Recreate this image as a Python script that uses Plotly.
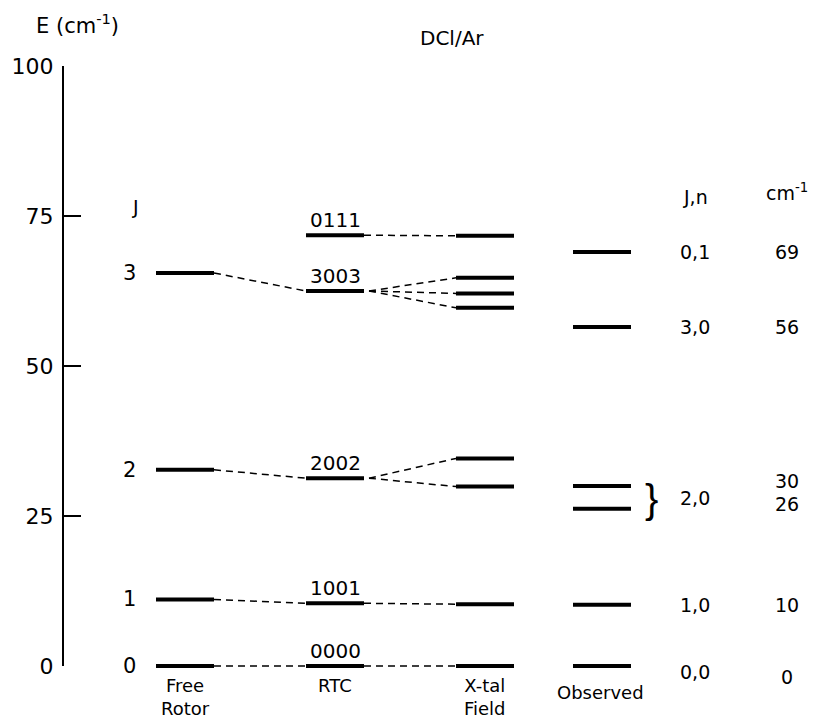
import plotly.graph_objects as go

# ---------------- data (energies in cm^-1) ----------------
free_rotor_J = ["0", "1", "2", "3"]
free_rotor_E = [0.0, 11.1, 32.7, 65.5]

rtc_labels = ["0000", "1001", "2002", "3003", "0111"]
rtc_E = [0.0, 10.45, 31.3, 62.5, 71.8]
rtc_from_free = [0, 1, 2, 3, None]          # index of free-rotor level feeding each RTC level

xtal_E = [0.0, 10.3, 29.9, 34.6, 59.7, 62.1, 64.7, 71.7]
xtal_from_rtc = [0, 1, 2, 2, 3, 3, 3, 4]     # index of RTC level feeding each crystal-field level

observed_E = [0.0, 10.2, 26.2, 30.0, 56.5, 69.0]
observed_Jn = ["0,0", "1,0", "2,0", "3,0", "0,1"]
observed_cm = ["0", "10", "30", "26", "56", "69"]

column_names = ["Free<br>Rotor", "RTC", "X-tal<br>Field", "Observed"]
y_ticks = [0, 25, 50, 75, 100]

# ---------------- layout constants ----------------
W, H = 817, 727
Y0_PX, Y100_PX = 666, 66
PX_PER_UNIT = (Y0_PX - Y100_PX) / 100.0
X_FR, X_RTC, X_XT, X_OBS = 185, 335, 485, 602
HW = 29
FONT = "DejaVu Sans"

def levels(xc, ys):
    xs, yy = [], []
    for y in ys:
        xs += [xc - HW, xc + HW, None]
        yy += [y, y, None]
    return xs, yy

fig = go.Figure()

# carrier trace so the energy-axis subplot is drawn
fig.add_trace(go.Scatter(x=[0.5], y=[50], mode="markers", marker=dict(opacity=0),
                         hoverinfo="skip", showlegend=False))

# dashed connectors
dx, dy = [], []
for i, j in enumerate(rtc_from_free):
    if j is None:
        continue
    dx += [X_FR + HW, X_RTC - HW, None]
    dy += [free_rotor_E[j], rtc_E[i], None]
for i, j in enumerate(xtal_from_rtc):
    n_children = xtal_from_rtc.count(j)
    start = X_RTC + HW + (5 if n_children > 1 else 0)
    dx += [start, X_XT - HW, None]
    dy += [rtc_E[j], xtal_E[i], None]
fig.add_trace(go.Scatter(x=dx, y=dy, mode="lines", xaxis="x2", yaxis="y2",
                         line=dict(color="black", width=1.5, dash="7px,5px"),
                         hoverinfo="skip", showlegend=False))

# energy levels
for xc, ys in [(X_FR, free_rotor_E), (X_RTC, rtc_E), (X_XT, xtal_E), (X_OBS, observed_E)]:
    lx, ly = levels(xc, ys)
    fig.add_trace(go.Scatter(x=lx, y=ly, mode="lines", xaxis="x2", yaxis="y2",
                             line=dict(color="black", width=4),
                             hoverinfo="skip", showlegend=False))

ann = []
def txt(x, y, t, size=19, xanchor="center", yanchor="middle", xref="x2", yref="y2", family=FONT):
    ann.append(dict(x=x, y=y, text=t, showarrow=False, xref=xref, yref=yref,
                    xanchor=xanchor, yanchor=yanchor,
                    font=dict(family=family, size=size, color="black")))

# free rotor J labels
for lab, e in zip(free_rotor_J, free_rotor_E):
    txt(129, e, lab, size=21)
txt(135, 76.5, "J", size=19)

# RTC labels sitting on their lines
for lab, e in zip(rtc_labels, rtc_E):
    txt(X_RTC, e + 0.2, lab, size=20, yanchor="bottom")

# column captions
txt(X_FR, -1.2, column_names[0], size=18, yanchor="top")
txt(X_RTC, -1.2, column_names[1], size=18, yanchor="top")
txt(X_XT, -1.2, column_names[2], size=18, yanchor="top")
txt(X_OBS - 2, -2.3, column_names[3], size=18, yanchor="top")

# observed assignments and values
X_JN, X_CM = 695, 787
jn_pos = [observed_E[0] - 1.0, observed_E[1], (observed_E[2] + observed_E[3]) / 2 - 0.1,
          observed_E[4], observed_E[5]]
for lab, e in zip(observed_Jn, jn_pos):
    txt(X_JN, e, lab, size=19)
cm_pos = [observed_E[0] - 1.8, observed_E[1], observed_E[3] + 0.8, observed_E[2] + 0.8,
          observed_E[4], observed_E[5]]
for lab, e in zip(observed_cm, cm_pos):
    txt(X_CM, e, lab, size=19)
txt(651, (observed_E[2] + observed_E[3]) / 2 - 0.3, "}", size=40, family="Liberation Sans")
txt(X_JN, 78.2, "J,n", size=19)
txt(X_CM, 79.0, "cm<sup>-1</sup>", size=19)

# axis title and figure title
txt(77, 1 - 24 / H, "E (cm<sup>-1</sup>)", size=21, yref="paper")
txt(452, 1 - 38 / H, "DCl/Ar", size=20, yref="paper")

fig.update_layout(
    width=W, height=H,
    margin=dict(l=0, r=0, t=0, b=0),
    paper_bgcolor="white", plot_bgcolor="rgba(0,0,0,0)",
    annotations=ann,
    # visible energy axis
    xaxis=dict(domain=[64 / W, 1], range=[0, 1], visible=False, fixedrange=True),
    yaxis=dict(domain=[1 - Y0_PX / H, 1 - Y100_PX / H], range=[0, 100],
               tickvals=y_ticks, ticktext=[str(v) for v in y_ticks],
               ticks="inside", ticklen=17, tickwidth=1.8, tickcolor="black",
               showline=True, linecolor="black", linewidth=2,
               showgrid=False, zeroline=False, automargin=False,
               ticklabelstandoff=4, fixedrange=True,
               tickfont=dict(family=FONT, size=22, color="black")),
    # full-page drawing layer in the same energy units
    xaxis2=dict(domain=[0, 1], range=[0, W], visible=False, anchor="y2", fixedrange=True),
    yaxis2=dict(domain=[0, 1],
                range=[(Y0_PX - H) / PX_PER_UNIT, Y0_PX / PX_PER_UNIT],
                visible=False, anchor="x2", fixedrange=True),
    showlegend=False,
)

fig.write_html("out.html")
